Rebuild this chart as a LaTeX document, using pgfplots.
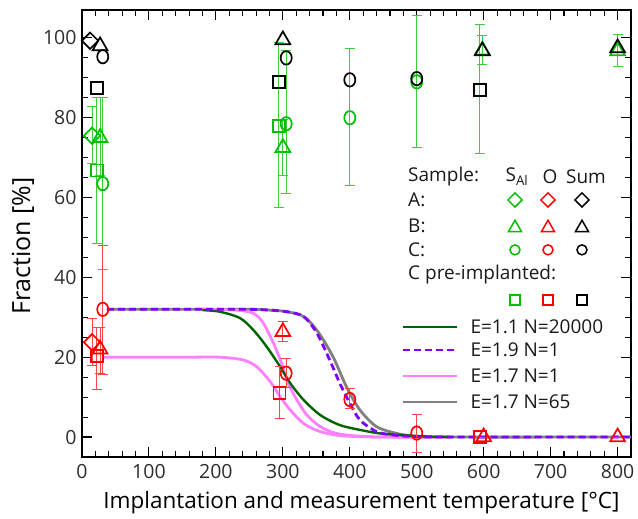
\documentclass[border=0pt]{standalone}
\usepackage{fontspec}
\setmainfont{Open Sans}
\usepackage{pgfplots}
\usepackage{pgfplotstable}
\pgfplotsset{compat=1.18}

\definecolor{mgreen}{RGB}{0,190,0}
\definecolor{egreen}{RGB}{60,205,60}
\definecolor{mred}{RGB}{255,0,0}
\definecolor{ered}{RGB}{255,70,70}
\definecolor{dgreen}{RGB}{0,100,0}
\definecolor{purp}{RGB}{128,0,255}
\definecolor{lpink}{RGB}{255,128,255}
\definecolor{ggray}{RGB}{128,128,128}
\definecolor{ticklab}{RGB}{45,45,45}

% x y err+ err-
\pgfplotstableread{
x y ep em
15 75.5 7.25 7
}\salA
\pgfplotstableread{
x y ep em
27 75 10 9.5
300 72.5 7 7
598 96.9 3.6 3.65
800 96.75 4 4
}\salB
\pgfplotstableread{
x y ep em
31 63.5 21.5 21.5
305 78.5 18.25 17.5
400 80 17.3 17
500 89 16.7 16.5
}\salC
\pgfplotstableread{
x y ep em
22 66.8 18.2 18.2
294 78 20.8 20.4
594 87 16.4 16
}\salP

\pgfplotstableread{
x y ep em
15 23.75 6 5.75
}\oA
\pgfplotstableread{
x y ep em
27 22 5.5 6
300 26.4 2.5 2.5
600 0 0 0
800 0 0 0
}\oB
\pgfplotstableread{
x y ep em
31 32 16 16.3
305 16 3.7 3.5
400 9.4 2.8 2.3
500 1 4.75 4.75
}\oC
\pgfplotstableread{
x y ep em
22 20.3 7.2 8.5
295 11.1 6.7 6.4
594 0 0 0
}\oP

\pgfplotstableread{
x y
12 99.3
}\sumA
\pgfplotstableread{
x y
27 98
300 99.5
598 96.75
800 97.5
}\sumB
\pgfplotstableread{
x y
31 95.3
305 95
400 89.5
500 89.8
}\sumC
\pgfplotstableread{
x y
22 87.5
294 89
594 87
}\sumP

% model curves
\pgfplotstableread{
x y
180 31.8
206 31.4
236 29.8
256 26.8
276 22.6
296 17.6
311 13.5
331 9.3
356 5.5
385 3
415 1.8
445 0.9
485 0.4
520 0.1
550 0
}\cOne
\pgfplotstableread{
x y
37 32
150 32
250 32
280 31.8
306 31.4
331 30.2
351 26
370 19.3
385 13.5
400 8.5
415 4.3
440 1.35
465 0.5
500 0.1
550 0
820 0
}\cTwo
\pgfplotstableread{
x y
180 32
230 31.8
256 31
271 28.5
286 23.5
298 18.5
308 13.5
321 9.3
336 5.5
356 2.6
380 0.9
415 0.2
450 0
550 0
}\cThreeA
\pgfplotstableread{
x y
30 20
150 20
206 20
241 19.3
261 17.6
281 13.9
296 10.1
311 6.8
331 3.4
356 1.35
390 0.3
450 0
550 0
}\cThreeB
\pgfplotstableread{
x y
37 32
150 32
250 32
280 31.8
306 31.4
331 30.2
352 26.5
375 20.1
395 12.6
415 6.8
440 2.6
470 0.9
495 0.26
530 0
820 0
}\cFour

\newcommand\lmark[3]{\tikz[baseline=-0.5ex]{\pgfsetlinewidth{1.5pt}\pgfsetstrokecolor{#1}\pgfsetplotmarksize{#2}#3}}
\newcommand\ldia[1]{\lmark{#1}{5pt}{\pgftransformrotate{45}\pgfuseplotmark{square}}}
\newcommand\ltri[1]{\lmark{#1}{7.5pt}{\pgfuseplotmark{triangle}}}
\newcommand\lcir[1]{\lmark{#1}{5pt}{\pgfuseplotmark{o}}}
\newcommand\lsqu[1]{\lmark{#1}{5pt}{\pgfuseplotmark{square}}}

\begin{document}
\begin{tikzpicture}
\begin{axis}[
  scale only axis,
  width=549pt, height=447pt,
  xmin=0, xmax=820, ymin=-5, ymax=107,
  xtick={0,100,...,800}, ytick={0,20,...,100},
  minor x tick num=4, minor y tick num=3,
  tick align=inside,
  major tick length=10pt, minor tick length=6pt,
  every tick/.style={black, line width=1.1pt},
  axis line style={line width=1.4pt},
  tick label style={font=\fontsize{19.5}{22}\selectfont, text=ticklab},
  /pgf/number format/assume math mode=true,
  xticklabel style={yshift=-4pt},
  yticklabel style={xshift=-2pt},
  xlabel={Implantation and measurement temperature [\textdegree C]},
  ylabel={Fraction [\%]},
  xlabel style={font=\fontsize{22.5}{26}\selectfont, at={(axis description cs:0.509,-0.103)}, anchor=center},
  ylabel style={font=\fontsize{25}{28}\selectfont, at={(axis description cs:-0.1075,0.472)}, anchor=center},
  clip=false,
  only marks,
  error bars/y dir=both, error bars/y explicit,
]
% model curves
\addplot[no markers, sharp plot, smooth, ggray, line width=2.8pt] table {\cFour};
\addplot[no markers, sharp plot, smooth, lpink, line width=2.8pt] table {\cThreeA};
\addplot[no markers, sharp plot, smooth, lpink, line width=2.8pt] table {\cThreeB};
\addplot[no markers, sharp plot, smooth, dgreen, line width=2.4pt] table {\cOne};
\addplot[no markers, sharp plot, smooth, purp, line width=2.8pt, dash pattern=on 7pt off 4pt] table {\cTwo};

\pgfplotsset{
  gbar/.style={mgreen, every mark/.append style={solid, line width=1.7pt},
    error bars/error bar style={egreen, line width=1pt},
    error bars/error mark options={egreen, rotate=90, mark size=5pt, line width=1pt}},
  rbar/.style={mred, every mark/.append style={solid, line width=1.7pt},
    error bars/error bar style={ered, line width=1pt},
    error bars/error mark options={ered, rotate=90, mark size=5pt, line width=1pt}},
  kbar/.style={black, every mark/.append style={solid, line width=1.7pt}, error bars/y dir=none},
  dia/.style={mark=square, mark size=5.8pt, every mark/.append style={rotate=45}},
  tri/.style={mark=triangle, mark size=8.5pt},
  cir/.style={mark=o, mark size=6pt, every mark/.append style={xscale=0.92, yscale=1.12}},
  squ/.style={mark=square, mark size=6pt},
}
% S_Al (green)
\addplot[gbar, dia] table[y error plus=ep, y error minus=em] {\salA};
\addplot[gbar, tri] table[y error plus=ep, y error minus=em] {\salB};
\addplot[gbar, cir] table[y error plus=ep, y error minus=em] {\salC};
\addplot[gbar, squ] table[y error plus=ep, y error minus=em] {\salP};
% O (red)
\addplot[rbar, dia] table[y error plus=ep, y error minus=em] {\oA};
\addplot[rbar, tri] table[y error plus=ep, y error minus=em] {\oB};
\addplot[rbar, cir] table[y error plus=ep, y error minus=em] {\oC};
\addplot[rbar, squ] table[y error plus=ep, y error minus=em] {\oP};
% Sum (black)
\addplot[kbar, dia] table {\sumA};
\addplot[kbar, tri] table {\sumB};
\addplot[kbar, cir] table {\sumC};
\addplot[kbar, squ] table {\sumP};

% legend
\begin{scope}[font=\fontsize{19}{22}\selectfont, text=black!90]
\node[anchor=west] at (axis cs:482,65.2) {Sample:};
\node[anchor=west] at (axis cs:482,59.4) {A:};
\node[anchor=west] at (axis cs:482,52.9) {B:};
\node[anchor=west] at (axis cs:482,46.9) {C:};
\node[anchor=west] at (axis cs:482,40.6) {C pre-implanted:};
\node at (axis cs:649.7,65.2) {S\textsubscript{Al}};
\node at (axis cs:699,65.2) {O};
\node at (axis cs:752.8,65.2) {Sum};
\node[anchor=west] at (axis cs:575,27.6) {E=1.1 N=20000};
\node[anchor=west] at (axis cs:575,21.8) {E=1.9 N=1};
\node[anchor=west] at (axis cs:575,15.3) {E=1.7 N=1};
\node[anchor=west] at (axis cs:575,8.8) {E=1.7 N=65};
\end{scope}
\draw[dgreen, line width=2.4pt] (axis cs:479.5,27.6) -- (axis cs:560,27.6);
\draw[purp, line width=2.8pt, dash pattern=on 7pt off 4pt] (axis cs:479.5,21.8) -- (axis cs:560,21.8);
\draw[lpink, line width=2.8pt] (axis cs:479.5,15.3) -- (axis cs:560,15.3);
\draw[ggray, line width=2.8pt] (axis cs:479.5,8.8) -- (axis cs:560,8.8);
\node[inner sep=0pt] at (axis cs:646.7,59.4) {\ldia{mgreen}};
\node[inner sep=0pt] at (axis cs:696,59.4) {\ldia{mred}};
\node[inner sep=0pt] at (axis cs:746.8,59.4) {\ldia{black}};
\node[inner sep=0pt] at (axis cs:646.7,52.9) {\ltri{mgreen}};
\node[inner sep=0pt] at (axis cs:696,52.9) {\ltri{mred}};
\node[inner sep=0pt] at (axis cs:746.8,52.9) {\ltri{black}};
\node[inner sep=0pt] at (axis cs:646.7,46.9) {\lcir{mgreen}};
\node[inner sep=0pt] at (axis cs:696,46.9) {\lcir{mred}};
\node[inner sep=0pt] at (axis cs:746.8,46.9) {\lcir{black}};
\node[inner sep=0pt] at (axis cs:646.7,34.3) {\lsqu{mgreen}};
\node[inner sep=0pt] at (axis cs:696,34.3) {\lsqu{mred}};
\node[inner sep=0pt] at (axis cs:746.8,34.3) {\lsqu{black}};
\end{axis}
\pgfresetboundingbox
\path[use as bounding box] (-82pt,-62pt) rectangle (556pt,457pt);
\end{tikzpicture}
\end{document}
